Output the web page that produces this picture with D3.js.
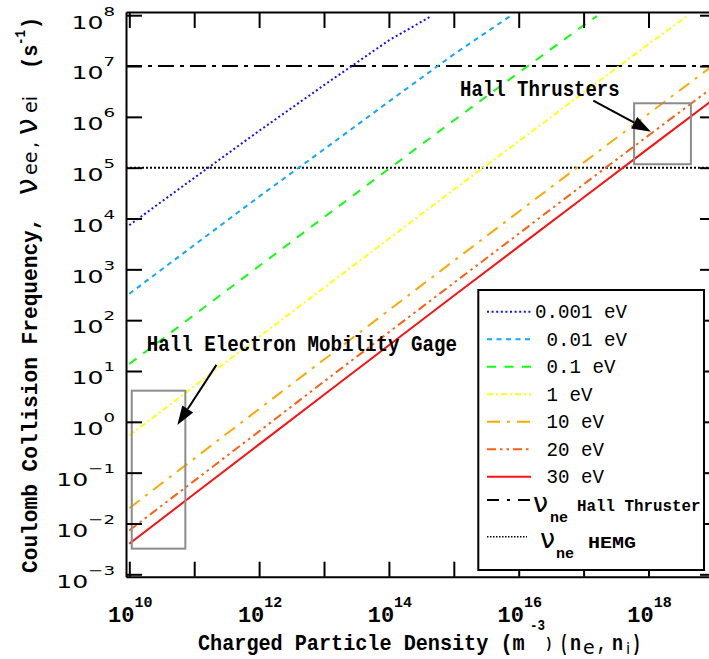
<!DOCTYPE html>
<html><head><meta charset="utf-8">
<script src="https://cdn.jsdelivr.net/npm/d3@7"></script>
<style>
body{margin:0;background:#fff}
svg{display:block}
text{white-space:pre}
</style></head><body>
<svg id="chart" width="709" height="659"></svg>
<script>
// ---- data: collision frequency (s^-1) versus charged particle density (m^-3)
const n_0001 = [1e10, 1e11, 1e12, 1e13, 1e14, 4.5e14];
const nu_0001 = [7.4e3, 6.3e4, 5.3e5, 4.2e6, 3.2e7, 9.6e7];
const n_001 = [1e10, 1e11, 1e12, 1e13, 1e14, 1e15, 7.4e15];
const nu_001 = [330, 3.0e3, 2.7e4, 2.3e5, 2.0e6, 1.7e7, 9.6e7];
const n_01 = [1e10, 1e11, 1e12, 1e13, 1e14, 1e15, 1e16, 1e17, 1.6e17];
const nu_01 = [13.7, 127, 1.16e3, 1.06e4, 9.5e4, 8.5e5, 7.4e6, 6.3e7, 9.6e7];
const n_1 = [1e10, 1e11, 1e12, 1e13, 1e14, 1e15, 1e16, 1e17, 1e18, 3.8e18];
const nu_1 = [0.54, 5.0, 47, 435, 4.0e3, 3.7e4, 3.3e5, 3.0e6, 2.7e7, 9.3e7];
const n_hot = [1e10, 1e11, 1e12, 1e13, 1e14, 1e15, 1e16, 1e17, 1e18, 1e19];
const nu_10 = [0.020, 0.189, 1.79, 16.8, 157, 1.47e3, 1.36e4, 1.26e5, 1.15e6, 1.04e7];
const nu_20 = [7.3e-3, 0.069, 0.65, 6.2, 58, 541, 5.0e3, 4.7e4, 4.3e5, 3.9e6];
const nu_30 = [4.0e-3, 0.038, 0.36, 3.4, 32, 302, 2.8e3, 2.6e4, 2.4e5, 2.2e6];

const seriesLabels = ["0.001 eV", " 0.01 eV", " 0.1 eV", " 1 eV", " 10 eV", " 20 eV", " 30 eV"];
const seriesColors = ["#1010ff", "#10a8ff", "#10ff10", "#ffff10", "#ffa800", "#ff6010", "#ff1010"];
const seriesDash = ["2,2.6", "5,4.5", "9,8.5", "6,3,2,3", "13,7,3,7", "9,4,2.5,4,2.5,4", null];

// reference frequencies (horizontal lines)
const nuHallThruster = 1e7;
const nuHEMG = 1e5;

// tick values
const xTicks = [1e10, 1e11, 1e12, 1e13, 1e14, 1e15, 1e16, 1e17, 1e18, 1e19];
const xLabelExps = [10, 12, 14, 16, 18];
const yTicks = [1e-3, 1e-2, 1e-1, 1e0, 1e1, 1e2, 1e3, 1e4, 1e5, 1e6, 1e7, 1e8];
const yLabelExps = ["-3", "-2", "-1", "0", "1", "2", "3", "4", "5", "6", "7", "8"];

// annotation regions (density range, frequency range)
const hemgBoxN = [1.09e10, 7.3e10], hemgBoxNu = [3.2e-3, 4.1];
const hallBoxN = [6.0e17, 4.5e18], hallBoxNu = [1.17e5, 1.85e6];
const hemgArrow = [[2.2e11, 13.2], [5.5e10, 0.87]];
const hallArrow = [[1.41e17, 2.08e6], [1.09e18, 5.1e5]];
const hemgText = [1.85e10, 25];
const hallText = [1.25e15, 2.6e6];

// ---- layout
const MONO = "'Liberation Mono','Courier New',monospace";
const SANS = "'DejaVu Sans',Verdana,sans-serif";
const L = 126, T = 12, R = 716, B = 576.7;

const svg = d3.select("#chart");
const x = d3.scaleLog().domain([10 ** 9.949, 10 ** 19.04]).range([L, R]);
const y = d3.scaleLog().domain([10 ** -3.047, 10 ** 8.063]).range([B, T]);

svg.append("defs").append("clipPath").attr("id", "plotClip")
  .append("rect").attr("x", L).attr("y", T).attr("width", R - L).attr("height", B - T);

const plotG = svg.append("g").attr("clip-path", "url(#plotClip)");

// reference lines
plotG.append("line").attr("x1", L).attr("x2", R)
  .attr("y1", y(nuHallThruster)).attr("y2", y(nuHallThruster))
  .attr("stroke", "#000").attr("stroke-width", 2).attr("stroke-dasharray", "16,6,4,6");
plotG.append("line").attr("x1", L).attr("x2", R)
  .attr("y1", y(nuHEMG)).attr("y2", y(nuHEMG))
  .attr("stroke", "#000").attr("stroke-width", 2).attr("stroke-dasharray", "2,2");

// series
const series = [
  [n_0001, nu_0001], [n_001, nu_001], [n_01, nu_01], [n_1, nu_1],
  [n_hot, nu_10], [n_hot, nu_20], [n_hot, nu_30]
];
const line = d3.line().x(d => x(d[0])).y(d => y(d[1]));
series.forEach(([ns, nus], i) => {
  const pts = ns.map((n, k) => [n, nus[k]]);
  plotG.append("path").attr("d", line(pts)).attr("fill", "none")
    .attr("stroke", seriesColors[i]).attr("stroke-width", 2)
    .attr("stroke-dasharray", seriesDash[i]);
});

// annotation boxes
function box(nr, vr) {
  plotG.append("rect")
    .attr("x", x(nr[0])).attr("y", y(vr[1]))
    .attr("width", x(nr[1]) - x(nr[0])).attr("height", y(vr[0]) - y(vr[1]))
    .attr("fill", "none").attr("stroke", "#8c8c8c").attr("stroke-width", 2);
}
box(hemgBoxN, hemgBoxNu);
box(hallBoxN, hallBoxNu);

function arrow(a) {
  const x0 = x(a[0][0]), y0 = y(a[0][1]), x1 = x(a[1][0]), y1 = y(a[1][1]);
  const ang = Math.atan2(y1 - y0, x1 - x0), len = 19, hw = 6.5;
  const bx = x1 - len * Math.cos(ang), by = y1 - len * Math.sin(ang);
  plotG.append("line").attr("x1", x0).attr("y1", y0).attr("x2", bx).attr("y2", by)
    .attr("stroke", "#000").attr("stroke-width", 2);
  const px = -Math.sin(ang) * hw, py = Math.cos(ang) * hw;
  plotG.append("path")
    .attr("d", `M${x1},${y1}L${bx + px},${by + py}L${bx - px},${by - py}Z`)
    .attr("fill", "#000");
}
arrow(hemgArrow);
arrow(hallArrow);

// monospaced text helper: font size sets glyph height, advance sets width
function mono(parent, px, py, str, size, adv, weight = "bold") {
  const g = parent.append("g").attr("transform", `translate(${px},${py}) scale(${adv / (0.6 * size)},1)`);
  return g.append("text").attr("font-family", MONO).attr("font-weight", weight)
    .attr("font-size", size).attr("fill", "#000").text(str);
}
mono(svg, x(hemgText[0]), y(hemgText[1]), "Hall Electron Mobility Gage", 22, 11.5);
mono(svg, x(hallText[0]), y(hallText[1]), "Hall Thrusters", 22, 11.4);

// ---- axes (ticks point inward, labels drawn separately)
const axG = svg.append("g");
axG.append("g").attr("transform", `translate(0,${B})`)
  .call(d3.axisBottom(x).tickValues(xTicks).tickSizeInner(-15).tickSizeOuter(0).tickFormat(""));
axG.append("g").attr("transform", `translate(0,${T})`)
  .call(d3.axisTop(x).tickValues(xTicks).tickSizeInner(-16).tickSizeOuter(0).tickFormat(""));
axG.append("g").attr("transform", `translate(${L},0)`)
  .call(d3.axisLeft(y).tickValues(yTicks).tickSizeInner(-16).tickSizeOuter(0).tickFormat(""));
axG.append("g").attr("transform", `translate(${R},0)`)
  .call(d3.axisRight(y).tickValues(yTicks).tickSizeInner(-16).tickSizeOuter(0).tickFormat(""));
axG.selectAll("path.domain").attr("stroke", "#000").attr("stroke-width", 2);
axG.selectAll(".tick line").attr("stroke", "#000").attr("stroke-width", 2);

// y tick labels
yTicks.forEach((v, i) => {
  const g = svg.append("g").attr("transform", `translate(115,${y(v) + 13.3}) scale(1.4,1)`);
  const t = g.append("text").attr("text-anchor", "end").attr("font-family", SANS)
    .attr("font-size", 18).attr("fill", "#000");
  t.append("tspan").text("10");
  t.append("tspan").attr("font-size", 13).attr("dy", -13).text(yLabelExps[i].replace("-", "\u2212"));
});

// x tick labels
xLabelExps.forEach(e => {
  const g = svg.append("g").attr("transform", `translate(${x(10 ** e) + 1},622)`);
  const t = g.append("text").attr("text-anchor", "middle").attr("font-family", MONO)
    .attr("font-weight", "bold").attr("font-size", 22).attr("fill", "#000");
  t.append("tspan").text("10");
  t.append("tspan").attr("font-size", 15).attr("dy", -15).text(String(e));
});

// x axis title
const xt = svg.append("g").attr("transform", "translate(198,650)");
mono(xt, 0, 0, "Charged Particle Density (m", 22, 12.1);
mono(xt, 332, -20, "-3", 14, 7.5);
mono(xt, 347, -2, ")", 14, 7.5);
mono(xt, 362, 0, "(", 22, 8);
mono(xt, 372, 0, "n", 22, 11);
xt.append("text").attr("x", 385).attr("y", 4).attr("font-family", SANS).attr("font-size", 19).text("e");
mono(xt, 399, 0, ",", 22, 9);
mono(xt, 414, 0, "n", 22, 11);
xt.append("text").attr("x", 428).attr("y", 4).attr("font-family", SANS).attr("font-size", 15).text("i");
mono(xt, 434, 0, ")", 22, 9);

// y axis title (rotated)
const yt = svg.append("g").attr("transform", "translate(37,573) rotate(-90)");
mono(yt, 0, 0, "Coulomb Collision Frequency,", 22, 12.7);
yt.append("text").attr("x", 378).attr("y", 0).attr("font-family", SANS).attr("font-size", 30).text("\u03bd");
yt.append("text").attr("x", 398).attr("y", 0).attr("font-family", SANS).attr("font-size", 19).text("ee");
yt.append("text").attr("x", 425).attr("y", 0).attr("font-family", SANS).attr("font-size", 19).text(",");
yt.append("text").attr("x", 438).attr("y", 0).attr("font-family", SANS).attr("font-size", 30).text("\u03bd");
yt.append("text").attr("x", 460).attr("y", 0).attr("font-family", SANS).attr("font-size", 19).text("ei");
mono(yt, 504, 0, "(s", 22, 12.2);
mono(yt, 528, -12, "-1", 14, 7.5);
mono(yt, 544, 0, ")", 22, 12.2);

// ---- legend
const lg = svg.append("g");
lg.append("rect").attr("x", 478.3).attr("y", 290).attr("width", 225.7).attr("height", 280)
  .attr("fill", "#fff").attr("stroke", "#000").attr("stroke-width", 2);
seriesLabels.forEach((lab, i) => {
  const yy = 311.7 + i * 27.5;
  lg.append("line").attr("x1", 487).attr("x2", 531).attr("y1", yy).attr("y2", yy)
    .attr("stroke", seriesColors[i]).attr("stroke-width", 2).attr("stroke-dasharray", seriesDash[i]);
  mono(lg, 535, yy + 6.5, lab, 21, 11.5, "normal");
});
// Hall thruster reference entry
lg.append("line").attr("x1", 487).attr("x2", 531).attr("y1", 500).attr("y2", 500)
  .attr("stroke", "#000").attr("stroke-width", 2).attr("stroke-dasharray", "12,8,3,8");
lg.append("text").attr("x", 533).attr("y", 512).attr("font-family", SANS).attr("font-size", 27).text("\u03bd");
mono(lg, 550, 522, "ne", 15, 9);
mono(lg, 577, 510.7, "Hall Thruster", 16, 9.5);
// HEMG reference entry
lg.append("line").attr("x1", 487).attr("x2", 527).attr("y1", 536.7).attr("y2", 536.7)
  .attr("stroke", "#000").attr("stroke-width", 1.5).attr("stroke-dasharray", "1.5,1.5");
lg.append("text").attr("x", 540).attr("y", 548).attr("font-family", SANS).attr("font-size", 27).text("\u03bd");
mono(lg, 556, 558, "ne", 15, 9);
mono(lg, 588, 548, "HEMG", 17, 12);
</script>
</body></html>
